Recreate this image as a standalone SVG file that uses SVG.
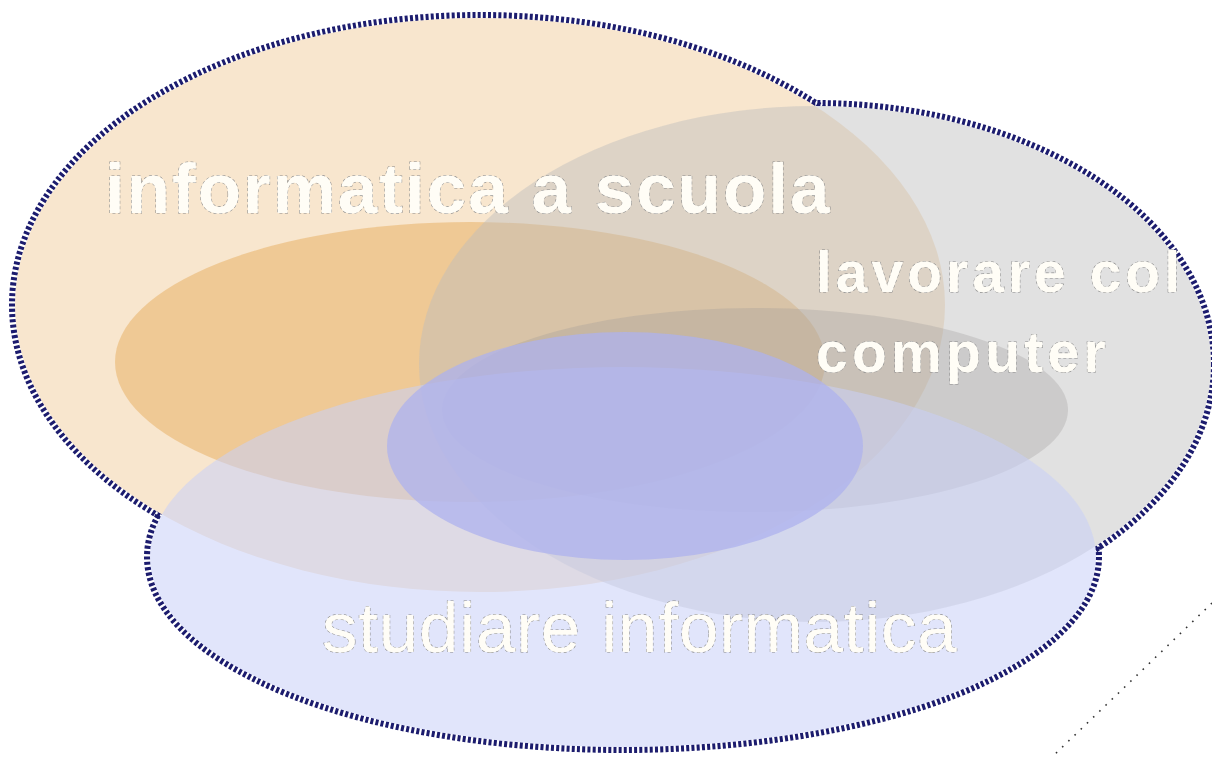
<svg xmlns="http://www.w3.org/2000/svg" width="1212" height="757" viewBox="0 0 1212 757">
<defs>
<style>
.outline{fill:none;stroke:#1c1c6e;stroke-width:12;stroke-dasharray:3 2.2}
.cover{fill:#ffffff}
.lbl{font-family:"Liberation Sans",Arial,Helvetica,sans-serif;fill:#fffdf6;stroke:#8c8c8c;stroke-width:1.1;stroke-dasharray:3 2.5;paint-order:stroke}
.bold{font-weight:bold}
</style>
</defs>
<rect width="1212" height="757" fill="#ffffff"/>
<g id="outline">
<ellipse class="outline" cx="480" cy="305" rx="465" ry="287"/>
<ellipse class="outline" cx="815" cy="364" rx="396" ry="258"/>
<ellipse class="outline" cx="623" cy="557" rx="473" ry="190"/>
<ellipse class="cover" cx="480" cy="305" rx="465" ry="287"/>
<ellipse class="cover" cx="815" cy="364" rx="396" ry="258"/>
<ellipse class="cover" cx="623" cy="557" rx="473" ry="190"/>
</g>
<g id="informatica-a-scuola">
<ellipse cx="480" cy="305" rx="465" ry="287" fill="#f3d2a5" fill-opacity="0.55"/>
<ellipse cx="470" cy="362" rx="355" ry="140" fill="#eab570" fill-opacity="0.6"/>
</g>
<g id="lavorare-col-computer">
<ellipse cx="815" cy="364" rx="396" ry="258" fill="#bdbcbc" fill-opacity="0.45"/>
<ellipse cx="755" cy="410" rx="313" ry="102" fill="#9a9898" fill-opacity="0.3"/>
</g>
<g id="studiare-informatica">
<ellipse cx="623" cy="557" rx="473" ry="190" fill="#c8d0f8" fill-opacity="0.55"/>
</g>
<g id="centro">
<ellipse cx="625" cy="446" rx="238" ry="114" fill="#aeb2ee" fill-opacity="0.75"/>
</g>
<line x1="1212" y1="603" x2="1052" y2="757" stroke="#333333" stroke-width="1.6" stroke-dasharray="1.6 7"/>
<g id="labels">
<text class="lbl bold" x="105" y="213" font-size="71" letter-spacing="2">informatica a scuola</text>
<text class="lbl bold" x="816" y="292" font-size="57" letter-spacing="4">lavorare col</text>
<text class="lbl bold" x="816" y="372" font-size="57" letter-spacing="4.3">computer</text>
<text class="lbl" x="322" y="652" font-size="71" letter-spacing="0.8">studiare informatica</text>
</g>
</svg>
